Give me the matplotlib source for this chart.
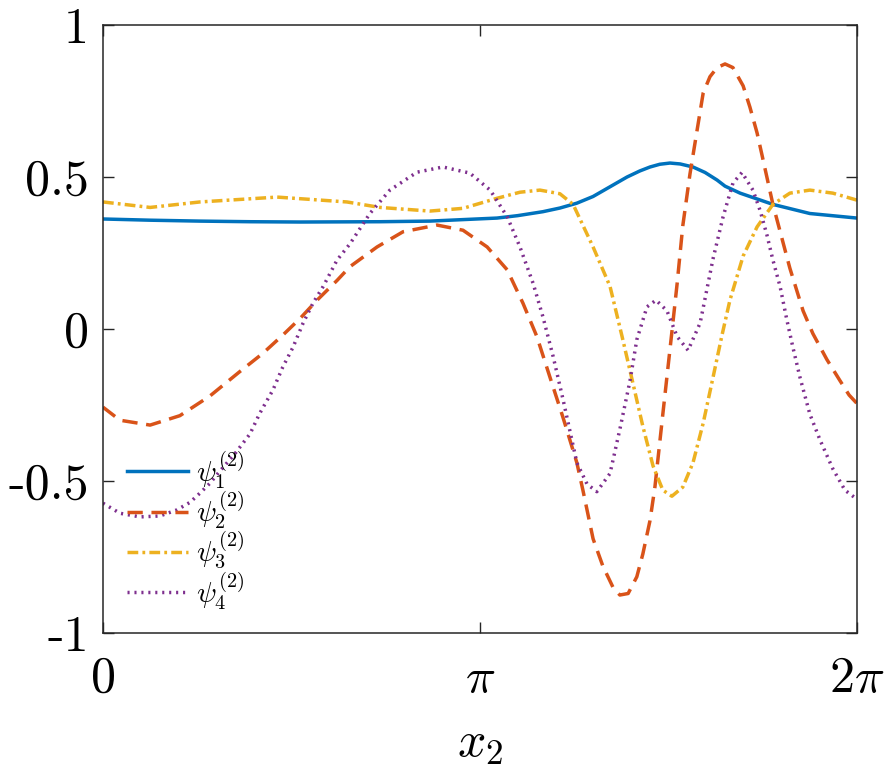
import numpy as np
import matplotlib
matplotlib.use("Agg")
import matplotlib.pyplot as plt

plt.rcParams['mathtext.fontset'] = 'cm'
plt.rcParams['axes.formatter.use_mathtext'] = True

# x positions are in units of pi
blue_x = [0, 0.125, 0.257, 0.390, 0.523, 0.735, 0.867, 1.045, 1.100, 1.167,
          1.212, 1.257, 1.300, 1.345, 1.390, 1.424, 1.451, 1.477, 1.504,
          1.531, 1.565, 1.597, 1.629, 1.650, 1.690, 1.777, 1.875, 2.0]
blue_y = [0.362, 0.358, 0.355, 0.353, 0.352, 0.353, 0.355, 0.365, 0.373,
          0.386, 0.398, 0.414, 0.436, 0.468, 0.50, 0.52, 0.533, 0.542, 0.546,
          0.543, 0.533, 0.515, 0.49, 0.47, 0.447, 0.41, 0.38, 0.365]

orange_x = [0, 0.045, 0.125, 0.204, 0.284, 0.363, 0.424, 0.477, 0.523, 0.568,
            0.621, 0.655, 0.727, 0.796, 0.886, 0.955, 1.019, 1.072, 1.114,
            1.151, 1.186, 1.220, 1.257, 1.273, 1.300, 1.326, 1.353, 1.371,
            1.393, 1.416, 1.432, 1.451, 1.464, 1.485, 1.509, 1.523, 1.538,
            1.557, 1.576, 1.592, 1.610, 1.629, 1.650, 1.671, 1.698, 1.716,
            1.735, 1.751, 1.777, 1.822, 1.857, 1.883, 1.920, 1.955, 1.979,
            2.0]
orange_y = [-0.257, -0.30, -0.316, -0.285, -0.22, -0.14, -0.08, -0.02, 0.035,
            0.095, 0.16, 0.205, 0.27, 0.32, 0.342, 0.325, 0.27, 0.195, 0.085,
            -0.025, -0.16, -0.29, -0.44, -0.53, -0.69, -0.78, -0.85, -0.875,
            -0.87, -0.815, -0.74, -0.63, -0.52, -0.28, -0.01, 0.15, 0.34,
            0.51, 0.655, 0.776, 0.83, 0.86, 0.872, 0.86, 0.80, 0.73, 0.645,
            0.556, 0.41, 0.20, 0.06, -0.015, -0.10, -0.17, -0.217, -0.245]

yellow_x = [0, 0.125, 0.257, 0.462, 0.647, 0.735, 0.867, 0.955, 1.045, 1.106,
            1.159, 1.212, 1.247, 1.300, 1.345, 1.377, 1.406, 1.432, 1.459,
            1.485, 1.509, 1.538, 1.565, 1.592, 1.618, 1.642, 1.663, 1.698,
            1.735, 1.777, 1.822, 1.875, 1.936, 2.0]
yellow_y = [0.418, 0.40, 0.418, 0.434, 0.418, 0.40, 0.388, 0.397, 0.43, 0.45,
            0.457, 0.445, 0.41, 0.27, 0.14, -0.025, -0.18, -0.32, -0.45,
            -0.53, -0.55, -0.52, -0.44, -0.31, -0.16, -0.02, 0.095, 0.24,
            0.336, 0.41, 0.447, 0.457, 0.447, 0.424]

purple_x = [0, 0.045, 0.098, 0.151, 0.196, 0.231, 0.257, 0.284, 0.305, 0.350,
            0.390, 0.416, 0.451, 0.477, 0.504, 0.531, 0.557, 0.584, 0.621,
            0.655, 0.708, 0.761, 0.833, 0.902, 0.973, 1.027, 1.072, 1.106,
            1.141, 1.167, 1.194, 1.220, 1.257, 1.284, 1.310, 1.345, 1.371,
            1.398, 1.416, 1.443, 1.467, 1.496, 1.523, 1.552, 1.584, 1.618,
            1.645, 1.671, 1.695, 1.724, 1.743, 1.761, 1.777, 1.796, 1.814,
            1.830, 1.849, 1.875, 1.902, 1.936, 1.968, 2.0]
purple_y = [-0.573, -0.606, -0.618, -0.615, -0.595, -0.57, -0.54, -0.507,
            -0.475, -0.41, -0.345, -0.277, -0.20, -0.125, -0.06, 0.02, 0.085,
            0.14, 0.227, 0.28, 0.38, 0.457, 0.516, 0.533, 0.513, 0.457, 0.37,
            0.27, 0.15, 0.04, -0.09, -0.23, -0.44, -0.51, -0.535, -0.475,
            -0.33, -0.17, -0.035, 0.073, 0.095, 0.06, -0.025, -0.07, 0.02,
            0.23, 0.37, 0.48, 0.515, 0.457, 0.39, 0.31, 0.227, 0.14, 0.03,
            -0.06, -0.16, -0.28, -0.365, -0.46, -0.53, -0.56]

labels = [r'$\psi_1^{(2)}$', r'$\psi_2^{(2)}$', r'$\psi_3^{(2)}$',
          r'$\psi_4^{(2)}$']
xtick_labels = [r'$0$', r'$\pi$', r'$2\pi$']
ytick_vals = [-1, -0.5, 0, 0.5, 1]
ytick_labels = ['-1', '-0.5', '0', '0.5', '1']

fig = plt.figure(figsize=(8.9, 7.75), dpi=100)
ax = fig.add_axes([0.1157, 0.1832, 0.9629 - 0.1157, 0.9677 - 0.1832])

lw = 2.5
ax.plot(np.array(blue_x) * np.pi, blue_y, color='#0072BD', lw=lw,
        label=labels[0])
ax.plot(np.array(orange_x) * np.pi, orange_y, color='#D95319', lw=lw,
        dashes=(4.4, 2.5), label=labels[1])
ax.plot(np.array(yellow_x) * np.pi, yellow_y, color='#EDB120', lw=lw,
        dashes=(3.1, 1.2, 0.8, 1.2), label=labels[2])
ax.plot(np.array(purple_x) * np.pi, purple_y, color='#7E2F8E', lw=lw,
        dashes=(0.6, 1.4), label=labels[3])

ax.set_xlim(0, 2 * np.pi)
ax.set_ylim(-1, 1)
ax.set_xticks([0, np.pi, 2 * np.pi])
ax.set_xticklabels(xtick_labels, fontsize=36)
ax.set_yticks(ytick_vals)
ax.set_yticklabels(ytick_labels, fontsize=36, family='cmr10')
ax.tick_params(direction='in', length=8, width=1.0, color='#262626',
               top=True, right=True)
ax.tick_params(axis='x', pad=15)
ax.tick_params(axis='y', pad=10)
for s in ax.spines.values():
    s.set_color('#262626')
    s.set_linewidth(1.1)
ax.set_xlabel(r'$x_2$', fontsize=36, labelpad=12)

ax.legend(loc='lower left', bbox_to_anchor=(24 / 754, 0.035), frameon=False,
          fontsize=21, handlelength=2.1, handletextpad=0.25,
          labelspacing=-0.05, borderaxespad=0, borderpad=0)

fig.savefig('out.png', dpi=100)
